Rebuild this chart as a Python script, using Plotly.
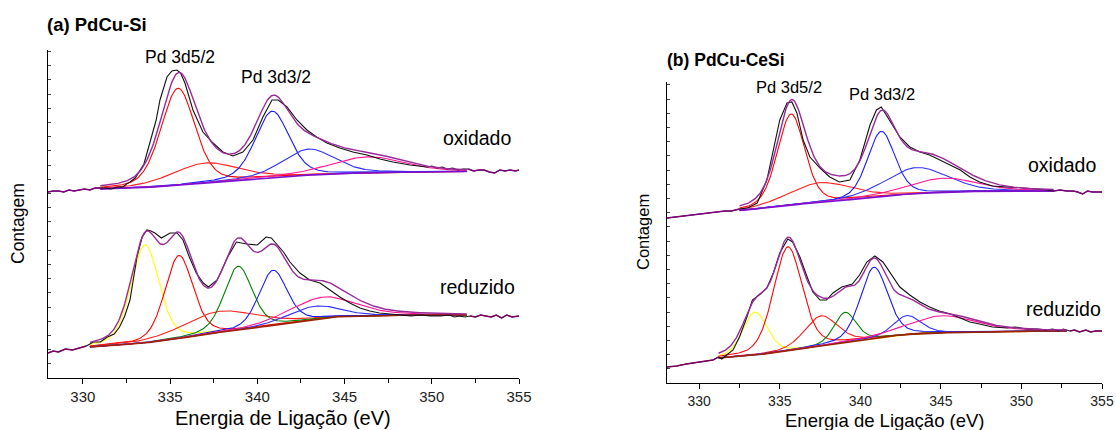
import numpy as np
import plotly.graph_objects as go

# ---------------- data (intensities in a.u.) ----------------
# (a) PdCu-Si, oxidado
a_ox_x = [328.0, 328.3, 328.6, 328.9, 329.2, 329.5, 329.8, 330.1, 330.4, 330.7, 331.0, 331.3, 331.6,
          332.0, 332.3, 332.5, 332.7, 333.0, 333.5,
          333.85, 334.2, 334.42, 334.82, 335.1, 335.39, 335.6, 335.85, 336.31, 336.88, 337.46, 338.03,
          338.6, 339.17, 339.75, 340.32, 340.84, 341.2, 341.7, 342.27, 342.84, 343.4, 343.99, 344.73,
          345.48, 346.28, 347.03, 347.77, 348.75, 349.72, 350.0, 350.3, 350.6, 350.87, 351.2, 351.5,
          351.8, 352.1, 352.4, 352.7, 353.0, 353.3, 353.6, 353.9, 354.2, 354.5, 354.8, 355.0]
a_ox_y = [186, 187, 187, 186, 188, 187, 188, 189, 188, 190, 190, 190, 189,
          191, 191, 194, 196, 200, 214,
          235, 258, 278, 301, 307, 308, 305, 295, 268, 246, 235, 226,
          222, 226, 238, 261, 278, 278, 271, 258, 248, 241, 235, 230,
          226, 223, 219, 216, 213, 211, 212, 210, 211, 209, 210, 208,
          209, 209, 207, 208, 208, 206, 205, 208, 207, 208, 207, 208]
a_ox_bg_x = [331.0, 333.0, 335.0, 337.0, 339.0, 341.0, 343.0, 345.0, 347.0, 350.0, 352.0]
a_ox_bg_y = [189, 190, 192, 195, 198, 201, 203, 204.5, 205.5, 206, 206.5]
a_ox_center = [335.45, 337.0, 340.85, 342.95, 346.3]
a_ox_amp = [97, 20, 66, 26, 16]
a_ox_fwhm = [2.3, 4.5, 2.3, 3.5, 5.0]
a_ox_color = ["#ff0000", "#ff2020", "#1a1aff", "#3030ff", "#ff1493"]

# (a) PdCu-Si, reduzido
a_red_x = [328.0, 328.3, 328.6, 329.0, 329.4, 329.8, 330.2, 330.6, 331.0, 331.4, 331.8, 332.1, 332.4,
           332.7, 333.1, 333.4, 333.67, 333.9, 334.13, 334.5, 334.8, 335.0, 335.4, 335.74, 336.1,
           336.5, 336.9, 337.2, 337.7, 338.3, 338.8, 339.4, 340.0, 340.5, 340.8, 341.1, 341.5,
           341.87, 342.44, 343.0, 343.59, 344.16, 344.73, 345.3, 345.88, 346.45, 347.0, 347.6,
           348.17, 348.8, 349.4, 349.9, 350.5, 351.0, 351.3, 351.6, 351.9, 352.2, 352.5, 352.8,
           353.1, 353.4, 353.7, 354.0, 354.3, 354.6, 355.0]
a_red_y = [25, 27, 26, 29, 28, 30, 32, 36, 36, 41, 44, 51, 62,
           78, 121, 141, 148, 147, 145, 140, 143, 145, 145, 138, 121,
           105, 95, 91, 98, 121, 136, 134, 133, 141, 140, 134, 126,
           116, 105, 98, 95, 88, 81, 75, 70, 67, 65, 64,
           63, 62, 63, 62, 62, 63, 61, 62, 61, 62, 61, 63,
           62, 61, 63, 60, 63, 61, 62]
a_red_bg_x = [330.4, 331.0, 333.0, 335.0, 337.0, 339.0, 341.0, 343.0, 344.2, 346.0, 348.2, 350.0, 352.0]
a_red_bg_y = [31, 32, 34, 38, 44, 48, 53, 58, 61, 62, 63, 63, 63]
a_red_center = [333.56, 335.5, 337.85, 338.9, 340.9, 343.2, 343.7]
a_red_amp = [98, 83, 21, 64, 55, 13, 21]
a_red_fwhm = [1.9, 1.9, 5.0, 1.9, 1.9, 3.5, 4.5]
a_red_color = ["#ffff00", "#ff0000", "#ff2020", "#008000", "#1a1aff", "#3030ff", "#ff1493"]

# (b) PdCu-CeSi, oxidado
b_ox_x = [328.0, 328.5, 329.0, 329.5, 330.0, 330.5, 331.1, 331.6, 332.0, 332.5, 333.0, 333.6, 334.2,
          334.6, 335.0, 335.45, 335.75, 336.06, 336.45, 336.87, 337.5, 338.1, 338.7, 339.35, 339.97,
          340.6, 341.0, 341.3, 341.8, 342.45, 343.07, 343.7, 344.3, 344.9, 345.56, 346.2, 346.8,
          347.4, 348.2, 349.3, 350.3, 351.0, 351.6, 352.0, 352.4, 352.8, 353.2, 353.5, 353.8,
          354.1, 354.4, 354.7, 355.0]
b_ox_y = [165, 166, 167, 168, 169, 170, 171, 172, 172, 174, 175, 180, 203,
          233, 263, 280, 281, 270, 243, 226, 215, 206, 201, 203, 223,
          258, 273, 276, 263, 246, 236, 231, 228, 223, 218, 213, 206,
          201, 197, 196, 195, 194, 193, 192, 193, 192, 192, 191, 189,
          192, 191, 191, 191]
b_ox_bg_x = [332.5, 333.0, 334.0, 335.0, 336.0, 338.0, 340.8, 343.0, 346.0, 350.0, 352.0]
b_ox_bg_y = [172.5, 173, 175, 177, 178.5, 181, 186, 189, 191.5, 192, 192]
b_ox_center = [335.7, 337.5, 341.3, 343.5, 345.1]
b_ox_amp = [91, 20, 65, 26, 14]
b_ox_fwhm = [2.0, 4.5, 2.0, 4.5, 5.0]
b_ox_color = ["#ff0000", "#ff2020", "#1a1aff", "#3030ff", "#ff1493"]

# (b) PdCu-CeSi, reduzido
b_red_x = [328.0, 328.6, 329.2, 329.6, 330.2, 330.85, 331.2, 331.4, 331.7, 332.1, 332.5, 332.96, 333.3,
           333.8, 334.2, 334.6, 335.0, 335.5, 335.8, 336.25, 336.7, 337.05, 337.5, 337.9, 338.3,
           338.85, 339.5, 339.95, 340.4, 340.9, 341.4, 341.85, 342.45, 343.07, 343.7, 344.3, 344.9,
           345.6, 346.2, 346.8, 347.4, 348.2, 349.1, 349.6, 350.3, 351.0, 351.5, 351.95, 352.3,
           352.6, 353.0, 353.3, 353.6, 354.0, 354.3, 354.6, 355.0]
b_red_y = [16, 17, 19, 20, 21, 23, 26, 24, 28, 33, 46, 66, 83,
           89, 95, 110, 130, 144, 141, 126, 106, 91, 83, 83, 90,
           96, 99, 108, 121, 127, 121, 110, 96, 88, 81, 76, 72,
           69, 65, 61, 59, 56, 55, 56, 54, 54, 53, 54, 52,
           54, 52, 53, 51, 53, 51, 52, 52]
b_red_bg_x = [331.2, 332.0, 333.0, 335.0, 337.5, 340.0, 342.45, 344.3, 347.4, 350.0, 352.8]
b_red_bg_y = [25, 26, 27, 31, 37, 43, 48, 50, 51, 52, 52]
b_red_center = [333.45, 335.5, 337.55, 339.05, 340.85, 342.9, 345.1]
b_red_amp = [43, 104, 30, 30, 71, 19, 17]
b_red_fwhm = [1.8, 2.1, 2.4, 1.6, 2.0, 2.0, 5.0]
b_red_color = ["#ffff00", "#ff0000", "#ff2020", "#008000", "#1a1aff", "#3030ff", "#ff1493"]

x_ticks = [330, 335, 340, 345, 350, 355]

# ---------------- figure ----------------
W, H = 1116, 430
FONT = "Liberation Sans, Arial, sans-serif"


def pv(x, c, a, w, eta=0.3):
    d = (x - c) / w
    return a * ((1 - eta) * np.exp(-4 * np.log(2) * d ** 2) + eta / (1 + 4 * d ** 2))


fig = go.Figure()


def add_spectrum(xa, ya, dx, dy, bgx, bgy, centers, amps, fwhms, colors, bgcol, envcol, outcol):
    grid = np.arange(bgx[0], bgx[-1] + 1e-9, 0.05)
    bg = np.interp(grid, bgx, bgy)
    total = bg.copy()
    common = dict(xaxis=xa, yaxis=ya, showlegend=False, hoverinfo="skip", mode="lines")
    for c, a, w, col in zip(centers, amps, fwhms, colors):
        comp = pv(grid, c, a, w)
        total = total + comp
        fig.add_trace(go.Scatter(x=grid, y=bg + comp, line=dict(color=col, width=1.1), **common))
    fig.add_trace(go.Scatter(x=grid, y=bg, line=dict(color=bgcol, width=1.6), **common))
    fig.add_trace(go.Scatter(x=dx, y=dy, line=dict(color="#111111", width=1.1), **common))
    fig.add_trace(go.Scatter(x=grid, y=total, line=dict(color=envcol, width=1.4), **common))
    lx = [x for x in dx if x <= bgx[0]]
    ly = [y for x, y in zip(dx, dy) if x <= bgx[0]]
    rx = [x for x in dx if x >= bgx[-1]]
    ry = [y for x, y in zip(dx, dy) if x >= bgx[-1]]
    fig.add_trace(go.Scatter(x=lx, y=ly, line=dict(color=outcol, width=1.4), **common))
    fig.add_trace(go.Scatter(x=rx, y=ry, line=dict(color=outcol, width=1.4), **common))


add_spectrum("x", "y", a_ox_x, a_ox_y, a_ox_bg_x, a_ox_bg_y, a_ox_center, a_ox_amp, a_ox_fwhm,
             a_ox_color, "#7a10d0", "#9a2a9a", "#800080")
add_spectrum("x", "y", a_red_x, a_red_y, a_red_bg_x, a_red_bg_y, a_red_center, a_red_amp, a_red_fwhm,
             a_red_color, "#992200", "#9a2a9a", "#800060")
add_spectrum("x2", "y2", b_ox_x, b_ox_y, b_ox_bg_x, b_ox_bg_y, b_ox_center, b_ox_amp, b_ox_fwhm,
             b_ox_color, "#7a10d0", "#9a2a9a", "#800080")
add_spectrum("x2", "y2", b_red_x, b_red_y, b_red_bg_x, b_red_bg_y, b_red_center, b_red_amp, b_red_fwhm,
             b_red_color, "#992200", "#9a2a9a", "#800060")


def xaxis_cfg(domain, size):
    return dict(domain=domain, range=[328, 355], showline=True, linecolor="black", linewidth=1,
                ticks="outside", ticklen=5, tickwidth=1, tickcolor="black",
                tickmode="array", tickvals=x_ticks, automargin=False,
                tickfont=dict(family=FONT, size=size, color="#222222"),
                minor=dict(tickmode="linear", tick0=330, dtick=2.5, ticks="outside", ticklen=4,
                           tickcolor="black", showgrid=False),
                showgrid=False, zeroline=False, mirror=False)


def yaxis_cfg(domain, top, anchor):
    return dict(domain=domain, range=[0, top], showline=True, linecolor="black", linewidth=1.3,
                ticks="inside", ticklen=3, tickwidth=1, tickcolor="#444444", automargin=False,
                tickmode="linear", tick0=0, dtick=14.2, showticklabels=False,
                showgrid=False, zeroline=False, anchor=anchor)


fig.update_layout(
    width=W, height=H, margin=dict(l=0, r=0, t=0, b=0, autoexpand=False),
    paper_bgcolor="white", plot_bgcolor="white",
    xaxis=dict(anchor="y", **xaxis_cfg([48 / W, 519 / W], 15)),
    yaxis=yaxis_cfg([1 - 378 / H, 1 - 50 / H], 328, "x"),
    xaxis2=dict(anchor="y2", **xaxis_cfg([667 / W, 1102 / W], 14)),
    yaxis2=yaxis_cfg([1 - 383 / H, 1 - 82 / H], 301, "x2"),
)


def ann(text, x, y, size, bold=False, angle=0, xanchor="center"):
    fig.add_annotation(text=f"<b>{text}</b>" if bold else text, x=x / W, y=1 - y / H,
                       xref="paper", yref="paper", showarrow=False, textangle=angle,
                       xanchor=xanchor, yanchor="middle",
                       font=dict(family=FONT, size=size, color="black"))


ann("(a) PdCu-Si", 45, 25, 18.5, bold=True, xanchor="left")
ann("(b) PdCu-CeSi", 665, 60, 17.5, bold=True, xanchor="left")
ann("Pd 3d5/2", 180, 57, 17.5)
ann("Pd 3d3/2", 276, 77, 17.5)
ann("oxidado", 477, 138, 19.5)
ann("reduzido", 477, 287, 19.5)
ann("Pd 3d5/2", 789, 87, 16.5)
ann("Pd 3d3/2", 882, 94, 16.5)
ann("oxidado", 1062, 165, 19.5)
ann("reduzido", 1063, 309, 19.5)
ann("Energia de Ligação (eV)", 283, 418, 20)
ann("Energia de Ligação (eV)", 885, 420, 18.5)
ann("Contagem", 18, 224, 17.5, angle=-90)
ann("Contagem", 643, 232, 16.5, angle=-90)

fig.write_html("out.html")
